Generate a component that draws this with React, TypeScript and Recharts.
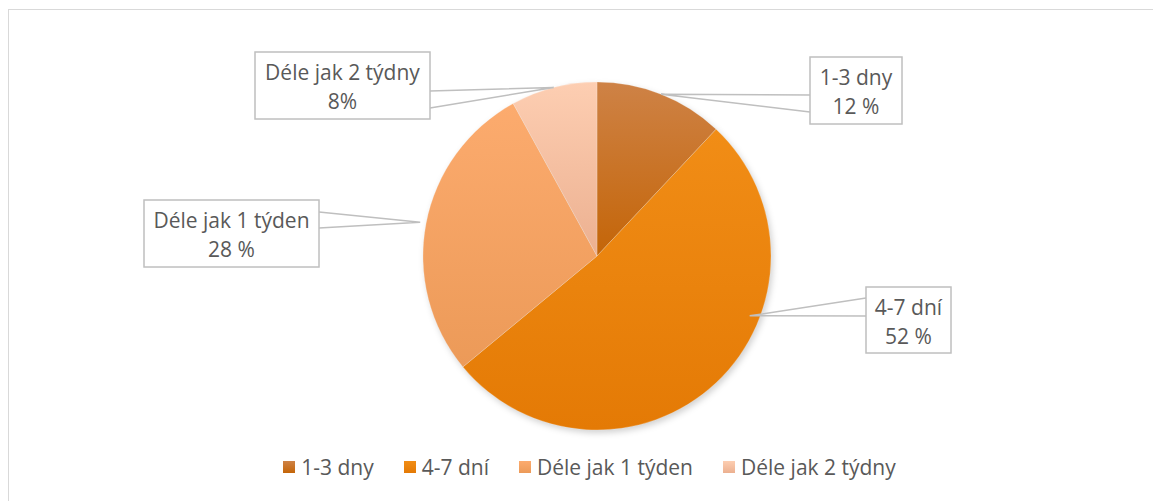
import { PieChart, Pie, Cell, Legend } from "recharts";

const categories = ["1-3 dny", "4-7 dní", "Déle jak 1 týden", "Déle jak 2 týdny"];
const shares = [12, 52, 28, 8];
const shareLabels = ["12 %", "52 %", "28 %", "8%"];

const topColors = ["#CE8246", "#F18D16", "#FCAB6E", "#FDCEB2"];
const bottomColors = ["#C46508", "#E47A05", "#EC9A58", "#ECB090"];

const data = categories.map((name, i) => ({ name, value: shares[i] }));

const W = 1153;
const H = 501;
const CX = 597;
const CY = 256;
const R = 174;
const RAD = Math.PI / 180;
const FONT = "'Open Sans', sans-serif";
const FS = 21;
const TEXT = "#595959";

// callout boxes, page coords, tuned by eye against the reference
const callouts = [
  { x: 810, y: 57, w: 92, h: 67, wedge: [38, 55], dAngle: 0, dR: 0 },
  { x: 866, y: 287, w: 85, h: 66, wedge: [11, 29], dAngle: 25.4, dR: -10 },
  { x: 144, y: 200, w: 175, h: 67, wedge: [12, 28], dAngle: 0, dR: 6 },
  { x: 255, y: 52, w: 175, h: 67, wedge: [39, 56], dAngle: 0, dR: 0 },
];

function renderCallout(props: any) {
  const { cx, cy, midAngle, outerRadius, index } = props;
  const b = callouts[index];
  const a = (midAngle + b.dAngle) * RAD;
  const r = outerRadius + b.dR;
  const ax = cx + r * Math.cos(-a);
  const ay = cy + r * Math.sin(-a);
  const ex = b.x + b.w / 2 > cx ? b.x : b.x + b.w;
  const mid = b.x + b.w / 2;
  return (
    <g key={`callout-${index}`}>
      <polyline
        points={`${ex},${b.y + b.wedge[0]} ${ax},${ay} ${ex},${b.y + b.wedge[1]}`}
        fill="none"
        stroke="#BFBFBF"
        strokeWidth={1.5}
      />
      <rect x={b.x} y={b.y} width={b.w} height={b.h} fill="#fff" stroke="#BFBFBF" strokeWidth={1.5} />
      <text x={mid} y={b.y + 28} textAnchor="middle" fill={TEXT} fontSize={FS} fontFamily={FONT}>
        {categories[index]}
      </text>
      <text x={mid} y={b.y + 57} textAnchor="middle" fill={TEXT} fontSize={FS} fontFamily={FONT}>
        {shareLabels[index]}
      </text>
    </g>
  );
}

function LegendContent() {
  return (
    <div
      style={{
        display: "flex",
        justifyContent: "center",
        paddingLeft: 26,
        fontFamily: FONT,
        fontSize: FS,
        color: TEXT,
      }}
    >
      {categories.map((c, i) => (
        <div key={c} style={{ display: "flex", alignItems: "center", marginRight: i < categories.length - 1 ? 30 : 0 }}>
          <svg width={12} height={12} style={{ marginRight: 6 }}>
            <rect width={12} height={12} fill={`url(#grad${i})`} />
          </svg>
          <span>{c}</span>
        </div>
      ))}
    </div>
  );
}

export default function App() {
  return (
    <div style={{ position: "absolute", left: 0, top: 0, width: W, height: H, overflow: "hidden", background: "#fff" }}>
      <div
        style={{
          position: "absolute",
          left: 8,
          top: 9,
          width: W,
          height: H,
          borderLeft: "1px solid #D9D9D9",
          borderTop: "1px solid #D9D9D9",
        }}
      />
      <div style={{ position: "absolute", left: 0, top: 0 }}>
        <PieChart width={W} height={H} margin={{ top: 0, right: 0, bottom: 0, left: 0 }}>
          <defs>
            {categories.map((c, i) => (
              <linearGradient key={c} id={`grad${i}`} x1="0" y1="0" x2="0" y2="1">
                <stop offset="0%" stopColor={topColors[i]} />
                <stop offset="100%" stopColor={bottomColors[i]} />
              </linearGradient>
            ))}
            <filter id="pieShadow" x="-20%" y="-20%" width="140%" height="140%">
              <feGaussianBlur stdDeviation="3" />
            </filter>
          </defs>
          <Pie
            data={data}
            dataKey="value"
            nameKey="name"
            cx={CX + 2}
            cy={CY + 3}
            outerRadius={R}
            startAngle={90}
            endAngle={-270}
            stroke="none"
            legendType="none"
            isAnimationActive={false}
          >
            {data.map((d) => (
              <Cell key={`s-${d.name}`} fill="#000" fillOpacity={0.18} filter="url(#pieShadow)" />
            ))}
          </Pie>
          <Pie
            data={data}
            dataKey="value"
            nameKey="name"
            cx={CX}
            cy={CY}
            outerRadius={R}
            startAngle={90}
            endAngle={-270}
            stroke="#ffffff"
            strokeOpacity={0.35}
            strokeWidth={0.6}
            label={renderCallout}
            labelLine={false}
            isAnimationActive={false}
          >
            {data.map((d, i) => (
              <Cell key={d.name} fill={`url(#grad${i})`} />
            ))}
          </Pie>
          <Legend
            content={<LegendContent />}
            wrapperStyle={{ position: "absolute", left: 0, top: 453, width: W }}
          />
        </PieChart>
      </div>
    </div>
  );
}
